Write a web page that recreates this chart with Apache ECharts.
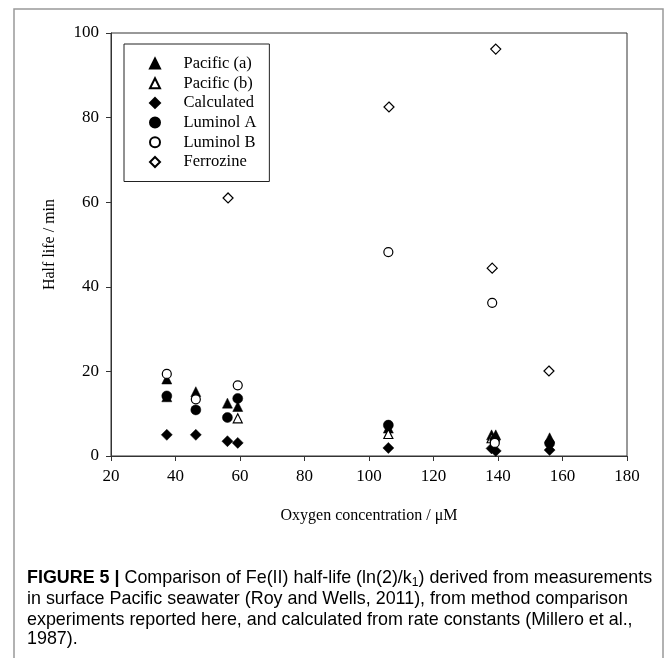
<!DOCTYPE html>
<html>
<head>
<meta charset="utf-8">
<script src="https://cdn.jsdelivr.net/npm/echarts@6/dist/echarts.min.js"></script>
<style>
html,body{margin:0;padding:0;background:#fff;}
#chart{width:669px;height:658px;}
</style>
</head>
<body>
<div id="chart"></div>
<script>
// ---- data ----
var seriesNames = ['Pacific (a)', 'Pacific (b)', 'Calculated', 'Luminol A', 'Luminol B', 'Ferrozine'];
var pacificA = [[37.3,18.2],[37.3,14.0],[46.3,15.2],[56.1,12.5],[59.3,11.7],[106,6.6],[138,5.0],[139.3,5.0],[156,4.3]];
var pacificB = [[59.3,8.9],[106,5.2],[138,4.2]];
var calculated = [[37.3,5.0],[46.3,5.0],[56.1,3.5],[59.3,3.1],[106,1.9],[138,1.8],[139.3,1.2],[156,1.4]];
var luminolA = [[37.3,14.2],[46.3,10.9],[56.1,9.1],[59.3,13.6],[106,7.3],[139,3.8],[156,3.0]];
var luminolB = [[37.3,19.4],[46.3,13.4],[59.3,16.7],[106,48.2],[138.2,36.2],[139,3.1]];
var ferrozine = [[56.3,61.0],[106.2,82.5],[138.2,44.4],[139.3,96.2],[155.8,20.1]];
var xTicks = {min:20, max:180, interval:20};
var yTicks = {min:0, max:100, interval:20};

var serif = '"Liberation Serif", "Times New Roman", serif';
var sans = '"Liberation Sans", Arial, sans-serif';

var chart = echarts.init(document.getElementById('chart'), null, {renderer:'canvas'});

function mk(name, data, symbol, size, filled){
  return {
    name: name, type: 'scatter', data: data, symbol: symbol, symbolSize: size,
    symbolKeepAspect: true,
    itemStyle: filled ? {color:'#000', borderColor:'#000', borderWidth:0.5, opacity:1}
                      : {color:'#fff', borderColor:'#000', borderWidth:1.2, opacity:1},
    emphasis: {disabled: true}
  };
}

var FS = 17.9;
var capBase = {fontFamily: sans, fontSize: FS, color: '#333'};
var rich = {
  b: {fontFamily: sans, fontSize: FS, fontWeight: 'bold', color: '#222'},
  l: {fontFamily: sans, fontSize: FS, color: '#8a8a8a'},
  s: {fontFamily: sans, fontSize: 12, color: '#333', padding:[9,0,0,0]}
};
function capLine(txt, y){
  return {type:'text', left: 27, top: y, style: Object.assign({text: txt, rich: rich}, capBase)};
}

var option = {
  backgroundColor: '#fff',
  animation: false,
  grid: {left: 111, top: 33, right: 42, bottom: 202, show: true, borderColor: '#333', borderWidth: 1},
  xAxis: {
    type: 'value', min: xTicks.min, max: xTicks.max, interval: xTicks.interval,
    name: 'Oxygen concentration / μM', nameLocation: 'middle', nameGap: 52,
    nameTextStyle: {fontFamily: serif, fontSize: 16, color: '#000'},
    axisLine: {show: true, onZero: false, lineStyle: {color: '#333', width: 1}},
    axisTick: {show: true, inside: false, length: 5, lineStyle: {color: '#333'}},
    axisLabel: {fontFamily: serif, fontSize: 17, color: '#000', margin: 12},
    splitLine: {show: false}
  },
  yAxis: {
    type: 'value', min: yTicks.min, max: yTicks.max, interval: yTicks.interval,
    name: 'Half life / min', nameLocation: 'middle', nameGap: 53, nameRotate: 90,
    nameTextStyle: {fontFamily: serif, fontSize: 16, color: '#000'},
    axisLine: {show: true, onZero: false, lineStyle: {color: '#333', width: 1}},
    axisTick: {show: true, inside: false, length: 5, lineStyle: {color: '#333'}},
    axisLabel: {fontFamily: serif, fontSize: 17, color: '#000', margin: 12},
    splitLine: {show: false}
  },
  legend: {
    orient: 'vertical', left: 124, top: 44,
    data: seriesNames,
    itemWidth: 10, itemHeight: 10, itemGap: 2.7,
    padding: [11, 13, 11, 25],
    borderColor: '#222', borderWidth: 1, backgroundColor: '#fff',
    textStyle: {fontFamily: serif, fontSize: 16.5, color: '#000', padding:[0,0,0,18.5]},
    selectedMode: false
  },
  series: [
    mk(seriesNames[0], pacificA, 'triangle', 10, true),
    mk(seriesNames[1], pacificB, 'triangle', 9, false),
    mk(seriesNames[2], calculated, 'diamond', 11, true),
    mk(seriesNames[3], luminolA, 'circle', 10, true),
    mk(seriesNames[4], luminolB, 'circle', 9, false),
    mk(seriesNames[5], ferrozine, 'diamond', 10, false)
  ],
  graphic: [
    {type:'polyline', shape:{points:[[14,700],[14,9],[663,9],[663,700]]}, style:{stroke:'#999', lineWidth:1.5, fill:null}, silent:true},
    capLine('{b|FIGURE 5 |} Comparison of Fe(II) half-life (ln(2)/k{s|1}) derived from measurements', 569),
    capLine('in surface Pacific seawater ({l|Roy and Wells, 2011}), from method comparison', 590),
    capLine('experiments reported here, and calculated from rate constants ({l|Millero et al.,}', 611),
    capLine('{l|1987}).', 630)
  ]
};
chart.setOption(option);
</script>
</body>
</html>
